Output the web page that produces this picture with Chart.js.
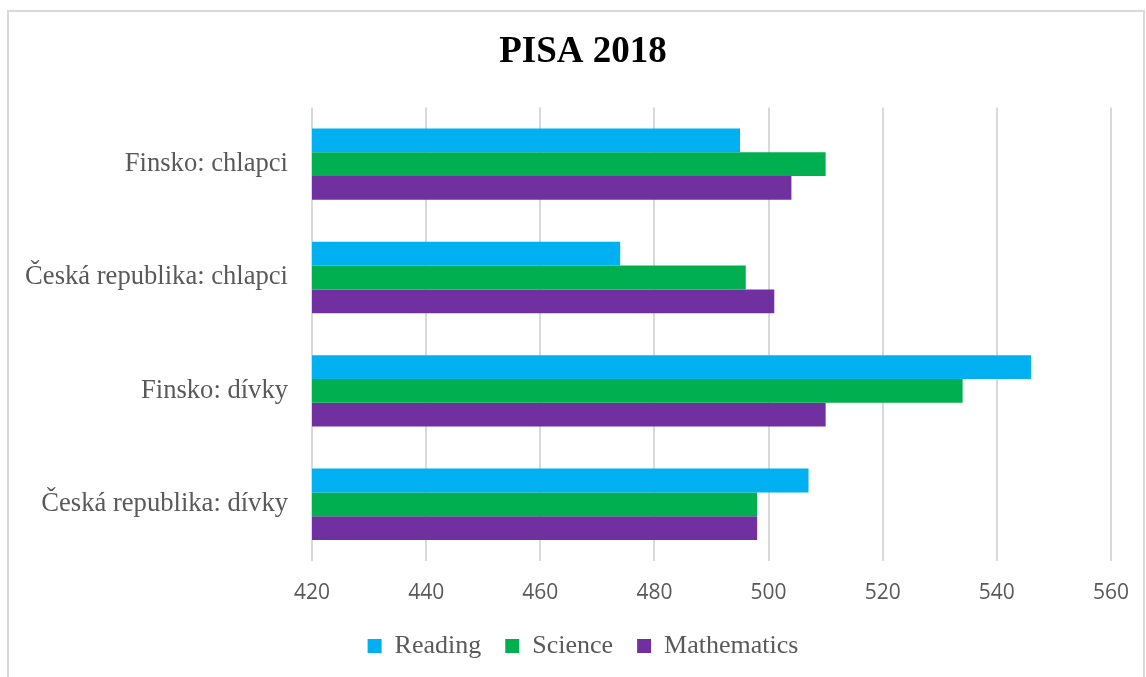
<!DOCTYPE html>
<html lang="cs">
<head>
    <meta charset="UTF-8">
    <title>PISA 2018</title>
    <script src="https://cdn.jsdelivr.net/npm/chart.js"></script>
    <style>
        body {
            margin: 0;
            background: white;
        }
        .box {
            position: absolute;
            left: 7px;
            top: 10px;
            width: 1134px;
            height: 667px;
            border: 2px solid #d9d9d9;
            border-bottom: none;
        }
        canvas {
            display: block;
        }
    </style>
</head>
<body>

<div class="box">
    <canvas id="chart" width="1134" height="665"></canvas>
</div>

<script>
    let categories = ["Finsko: chlapci", "Česká republika: chlapci", "Finsko: dívky", "Česká republika: dívky"];
    let reading = [495, 474, 546, 507];
    let science = [510, 496, 534, 498];
    let mathematics = [504, 501, 510, 498];
    let xTicks = [420, 440, 460, 480, 500, 520, 540, 560];

    let ctx = document.getElementById("chart").getContext("2d");
    new Chart(ctx, {
        type: "bar",
        data: {
            labels: categories,
            datasets: [
                { label: "Reading", data: reading, backgroundColor: "#00B0F0" },
                { label: "Science", data: science, backgroundColor: "#00B050" },
                { label: "Mathematics", data: mathematics, backgroundColor: "#7030A0" }
            ]
        },
        options: {
            indexAxis: "y",
            responsive: false,
            animation: false,
            datasets: { bar: { categoryPercentage: 0.63, barPercentage: 1 } },
            layout: { padding: { left: 14, right: 0, top: 0, bottom: 8 } },
            scales: {
                x: {
                    min: 420,
                    max: 560,
                    afterBuildTicks: scale => { scale.ticks = xTicks.map(v => ({ value: v })); },
                    grid: { color: "#d9d9d9", lineWidth: 2, drawTicks: false },
                    border: { display: false },
                    ticks: {
                        color: "#595959",
                        padding: 19,
                        font: { family: "Open Sans", size: 21 }
                    },
                    afterFit: scale => {
                        scale.height = 48;
                        scale.paddingRight = 32;
                    }
                },
                y: {
                    grid: { display: false },
                    border: { display: false },
                    ticks: {
                        color: "#595959",
                        padding: 16,
                        font: { family: "Liberation Serif", size: 26.6 }
                    },
                    afterFit: scale => { scale.width = 289; }
                }
            },
            plugins: {
                title: {
                    display: true,
                    text: "PISA 2018",
                    color: "#000000",
                    font: { family: "Liberation Serif", size: 37, weight: "bold" },
                    padding: { top: 18, bottom: 33 }
                },
                legend: {
                    position: "bottom",
                    labels: {
                        boxWidth: 14,
                        boxHeight: 14,
                        color: "#595959",
                        padding: 24,
                        font: { family: "Liberation Serif", size: 26 }
                    }
                },
                tooltip: { enabled: false }
            }
        }
    });
</script>

</body>
</html>
